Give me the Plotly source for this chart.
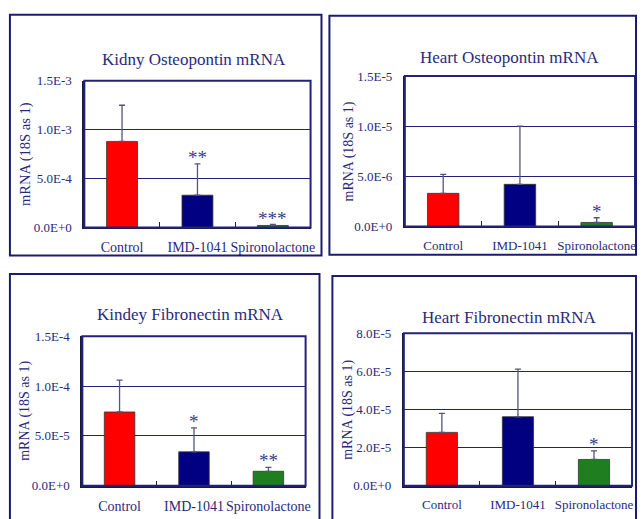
import plotly.graph_objects as go

W, H = 643, 519

categories = ["Control", "IMD-1041", "Spironolactone"]

titles = ["Kidny Osteopontin mRNA", "Heart Osteopontin mRNA",
          "Kindey Fibronectin mRNA", "Heart Fibronectin mRNA"]

kidney_opn_mean = [8.8e-4, 3.3e-4, 2.0e-5]
kidney_opn_err = [3.7e-4, 3.2e-4, 1.0e-5]
kidney_opn_sig = ["", "**", "***"]

heart_opn_mean = [3.3e-6, 4.2e-6, 4.0e-7]
heart_opn_err = [1.9e-6, 5.8e-6, 4.7e-7]
heart_opn_sig = ["", "", "*"]

kidney_fn_mean = [7.4e-5, 3.4e-5, 1.45e-5]
kidney_fn_err = [3.2e-5, 2.4e-5, 4.0e-6]
kidney_fn_sig = ["", "*", "**"]

heart_fn_mean = [2.8e-5, 3.62e-5, 1.38e-5]
heart_fn_err = [1.0e-5, 2.5e-5, 4.5e-6]
heart_fn_sig = ["", "", "*"]

ytick_vals = [
    [0, 5e-4, 1e-3, 1.5e-3],
    [0, 5e-6, 1e-5, 1.5e-5],
    [0, 5e-5, 1e-4, 1.5e-4],
    [0, 2e-5, 4e-5, 6e-5, 8e-5],
]
ytick_text = [
    ["0.0E+0", "5.0E-4", "1.0E-3", "1.5E-3"],
    ["0.0E+0", "5.0E-6", "1.0E-5", "1.5E-5"],
    ["0.0E+0", "5.0E-5", "1.0E-4", "1.5E-4"],
    ["0.0E+0", "2.0E-5", "4.0E-5", "6.0E-5", "8.0E-5"],
]
y_axis_title = "mRNA (18S as 1)"

means = [kidney_opn_mean, heart_opn_mean, kidney_fn_mean, heart_fn_mean]
errs = [kidney_opn_err, heart_opn_err, kidney_fn_err, heart_fn_err]
sigs = [kidney_opn_sig, heart_opn_sig, kidney_fn_sig, heart_fn_sig]

bar_colors = ["#ff0000", "#000080", "#1f7f1f"]
NAVY = "#22227a"
TEXT = "#2a2a7c"
FONT = "Liberation Serif"

# pixel geometry (left, right, top, bottom) of plot areas
plot_px = [(85, 313, 76, 227), (408, 640, 71, 226),
           (83, 308, 339, 493), (407, 637, 336, 493)]
panel_px = [(10, 324, 8, 256), (332, 641, 9, 255),
            (10, 322, 275, 530), (335, 641, 277, 530)]
title_px = [(196, 54), (513, 52), (192, 317), (513, 320)]
ytitle_x = [25, 352, 25, 350]
cat_font = [14, 13, 14, 13]
ytitle_font = [14.5, 14, 14, 14]

def px_x(v):
    return v / W

def px_y(v):
    return 1 - v / H

fig = go.Figure()
shapes = []
annotations = []

for i in range(4):
    ax = "" if i == 0 else str(i + 1)
    xa, ya = "x" + ax, "y" + ax
    l, r, t, b = plot_px[i]
    top = ytick_vals[i][-1]
    fig.add_trace(go.Bar(
        x=categories, y=means[i], xaxis=xa, yaxis=ya,
        width=0.41,
        marker=dict(color=bar_colors, line=dict(color="#333333", width=0.8)),
        error_y=dict(type="data", symmetric=False, array=errs[i],
                     arrayminus=[0] * 3, color="#555577", thickness=1.3, width=3),
        showlegend=False, hoverinfo="skip",
    ))
    fig.layout["xaxis" + ax] = dict(
        domain=[px_x(l), px_x(r)], anchor=ya, type="category",
        tickson="boundaries", ticks="inside", ticklen=5, tickcolor="#222222",
        showline=True, linecolor="#1a1a3a", linewidth=2, tickangle=0,
        tickfont=dict(family=FONT, size=cat_font[i], color=TEXT),
        ticklabelstandoff=6, showgrid=False, fixedrange=True,
    )
    fig.layout["yaxis" + ax] = dict(
        domain=[px_y(b), px_y(t)], anchor=xa, range=[0, top],
        tickvals=ytick_vals[i], ticktext=ytick_text[i],
        tickfont=dict(family=FONT, size=13, color=TEXT),
        ticklabelstandoff=8,
        showgrid=True, gridcolor=NAVY, gridwidth=1,
        showline=True, linecolor="#1a1a3a", linewidth=2,
        zeroline=False, ticks="", fixedrange=True,
    )
    shapes.append(dict(type="rect", xref="paper", yref="paper",
                       x0=px_x(l), x1=px_x(r), y0=px_y(b), y1=px_y(t),
                       line=dict(color=NAVY, width=2)))
    pl, pr, pt, pb = panel_px[i]
    shapes.append(dict(type="rect", xref="paper", yref="paper",
                       x0=px_x(pl), x1=px_x(pr), y0=px_y(pb), y1=px_y(pt),
                       line=dict(color="#1c1c6e", width=2)))
    tx, ty = title_px[i]
    annotations.append(dict(text=titles[i], xref="paper", yref="paper",
                            x=px_x(tx), y=px_y(ty), showarrow=False,
                            xanchor="center", yanchor="middle",
                            font=dict(family=FONT, size=17, color=TEXT)))
    annotations.append(dict(text=y_axis_title, xref="paper", yref="paper",
                            x=px_x(ytitle_x[i]), y=px_y((t + b) / 2),
                            showarrow=False, textangle=-90,
                            xanchor="center", yanchor="middle",
                            font=dict(family=FONT, size=ytitle_font[i], color=TEXT)))
    for j, s in enumerate(sigs[i]):
        if s:
            annotations.append(dict(text=s, xref=xa, yref=ya,
                                    x=categories[j], y=means[i][j] + errs[i][j],
                                    showarrow=False, xanchor="center",
                                    yanchor="bottom", yshift=-6,
                                    font=dict(family=FONT, size=19, color="#3a3a8a")))

fig.update_layout(
    width=W, height=H, margin=dict(l=0, r=0, t=0, b=0),
    paper_bgcolor="white", plot_bgcolor="white",
    shapes=shapes, annotations=annotations,
)

fig.write_html("out.html", config={"displayModeBar": False},
               post_script="document.body.style.margin='0';document.body.style.overflow='hidden';"
                           "document.documentElement.style.overflow='hidden';")
